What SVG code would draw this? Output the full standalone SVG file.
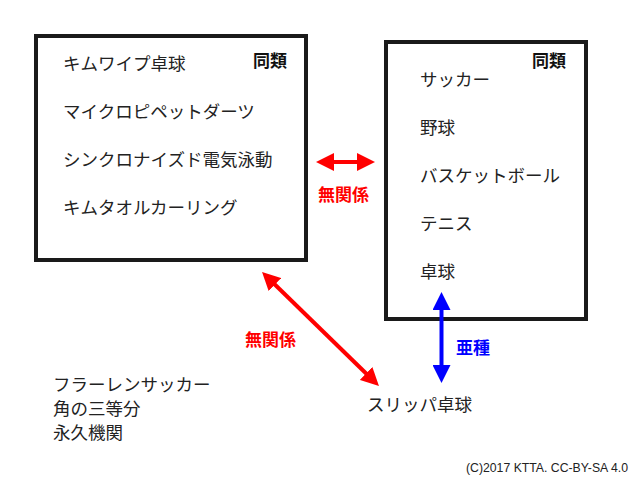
<svg xmlns="http://www.w3.org/2000/svg" width="640" height="480" viewBox="0 0 640 480">
<defs>
<style>
.t{font-family:"Noto Sans CJK JP","Noto Sans",sans-serif;font-size:17.5px;fill:#222}
.b{font-family:"Noto Sans CJK JP","Noto Sans",sans-serif;font-size:17px;font-weight:bold}
.box{fill:#fff;stroke:#1a1a1a;stroke-width:4}
.cr{font-family:"Liberation Sans",Arial,sans-serif;font-size:12px;fill:#222}
</style>
<marker id="ar" markerUnits="userSpaceOnUse" viewBox="0 0 18 18" markerWidth="18" markerHeight="18" refX="8" refY="9" orient="auto-start-reverse"><path d="M0,0 L18,9 L0,18 z" fill="#ff0000"/></marker>
<marker id="ab" markerUnits="userSpaceOnUse" viewBox="0 0 18 18" markerWidth="18" markerHeight="18" refX="8" refY="9" orient="auto-start-reverse"><path d="M0,0 L18,9 L0,18 z" fill="#0000ff"/></marker>
</defs>
<rect width="640" height="480" fill="#fff"/>
<g id="groupA">
<rect class="box" x="36" y="36" width="270" height="224"/>
<text class="b" x="253" y="67" fill="#111">同類</text>
<text class="t" x="63" y="70">キムワイプ卓球</text>
<text class="t" x="63" y="118">マイクロピペットダーツ</text>
<text class="t" x="63" y="166">シンクロナイズド電気泳動</text>
<text class="t" x="63" y="214">キムタオルカーリング</text>
</g>
<g id="groupB">
<rect class="box" x="386" y="42" width="200" height="277"/>
<text class="b" x="532" y="67" fill="#111">同類</text>
<text class="t" x="420" y="86">サッカー</text>
<text class="t" x="420" y="134">野球</text>
<text class="t" x="420" y="182">バスケットボール</text>
<text class="t" x="420" y="230">テニス</text>
<text class="t" x="420" y="278">卓球</text>
</g>
<g id="slipper">
<text class="t" x="367" y="411">スリッパ卓球</text>
</g>
<g id="others">
<text class="t" x="53" y="391">フラーレンサッカー</text>
<text class="t" x="53" y="415">角の三等分</text>
<text class="t" x="53" y="439">永久機関</text>
</g>
<g id="connectors">
<line x1="326" y1="162" x2="365" y2="162" stroke="#ff0000" stroke-width="4" marker-start="url(#ar)" marker-end="url(#ar)"/>
<text class="b" x="318" y="201" fill="#ff0000">無関係</text>
<line x1="269.2" y1="279" x2="371.8" y2="379" stroke="#ff0000" stroke-width="4" marker-start="url(#ar)" marker-end="url(#ar)"/>
<text class="b" x="245" y="346" fill="#ff0000">無関係</text>
<line x1="441.5" y1="302" x2="441.5" y2="373" stroke="#0000ff" stroke-width="4" marker-start="url(#ab)" marker-end="url(#ab)"/>
<text class="b" x="456" y="354" fill="#0000ff">亜種</text>
</g>
<text class="cr" x="466" y="472" textLength="162" lengthAdjust="spacingAndGlyphs">(C)2017 KTTA. CC-BY-SA 4.0</text>
</svg>
